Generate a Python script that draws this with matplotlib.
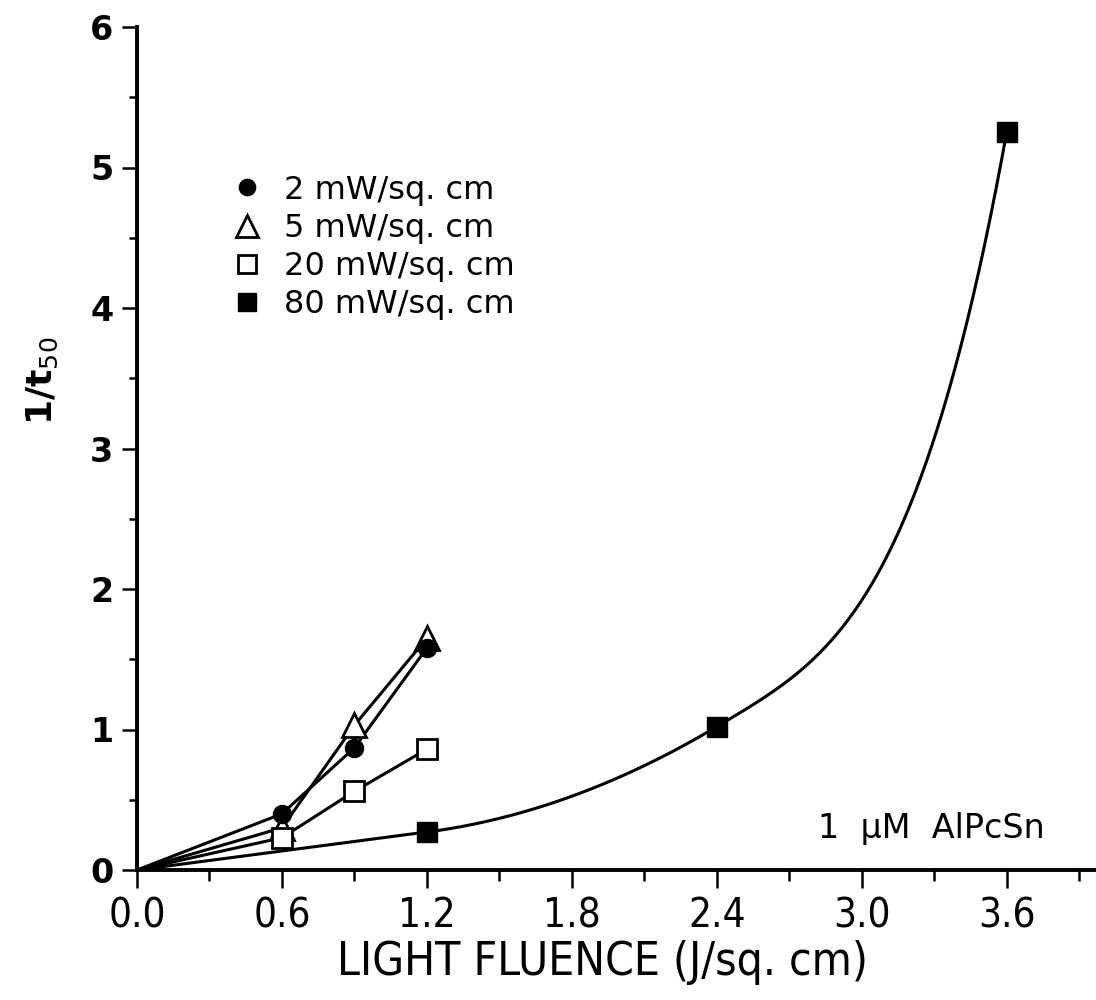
import numpy as np
import matplotlib
matplotlib.use("Agg")
import matplotlib.pyplot as plt
from matplotlib import font_manager
from matplotlib.font_manager import FontProperties
from matplotlib.ticker import MultipleLocator, FixedLocator

# ---- data ----
x_low = [0.0, 0.6, 0.9, 1.2]
y_2mw = [0.0, 0.40, 0.87, 1.58]
y_5mw = [0.0, 0.30, 1.03, 1.65]
y_20mw = [0.0, 0.23, 0.56, 0.86]
x_80mw = [0.0, 1.2, 2.4, 3.6]
y_80mw = [0.0, 0.27, 1.02, 5.25]
labels = ["2 mW/sq. cm", "5 mW/sq. cm", "20 mW/sq. cm", "80 mW/sq. cm"]
xticks = [0.0, 0.6, 1.2, 1.8, 2.4, 3.0, 3.6]
xticklabels = ["0.0", "0.6", "1.2", "1.8", "2.4", "3.0", "3.6"]
yticks = [0, 1, 2, 3, 4, 5, 6]
yticklabels = ["0", "1", "2", "3", "4", "5", "6"]

main = "DejaVu Sans"
cond_path = font_manager.findfont(FontProperties(family="DejaVu Sans", stretch="condensed"))
has_cond = "ondensed" in cond_path
narrow_props = dict(family="DejaVu Sans", fontstretch="condensed") if has_cond else dict(family="DejaVu Sans")

fig = plt.figure(figsize=(10.96, 10), dpi=100)
ax = fig.add_axes([137 / 1096, 0.13, 1 - 137 / 1096, 0.843])
ax.set_xlim(0, 3.97)
ax.set_ylim(0, 6)

lw = 2.2
ax.plot(x_low, y_2mw, color="black", lw=lw, zorder=2)
ax.plot(x_low, y_5mw, color="black", lw=lw, zorder=2)
ax.plot(x_low, y_20mw, color="black", lw=lw, zorder=2)

# 80 mW smooth fitted curve through its points (slope-continuous pieces)
x0, xa, xb, xc = x_80mw
y0, ya, yb, yc = y_80mw
s0 = (ya - y0) / (xa - x0)
xs1 = np.linspace(x0, xa, 20)
ys1 = y0 + s0 * (xs1 - x0)
qa = (yb - ya - s0 * (xb - xa)) / (xb - xa) ** 2
xs2 = np.linspace(xa, xb, 100)
ys2 = ya + s0 * (xs2 - xa) + qa * (xs2 - xa) ** 2
s1 = s0 + 2 * qa * (xb - xa)
p = 3.4
B = (yc - yb - s1 * (xc - xb)) / (xc - xb) ** p
xs3 = np.linspace(xb, xc, 200)
ys3 = yb + s1 * (xs3 - xb) + B * (xs3 - xb) ** p
ax.plot(np.concatenate([xs1, xs2, xs3]), np.concatenate([ys1, ys2, ys3]),
        color="black", lw=lw, zorder=2)

h1, = ax.plot(x_low[1:], y_2mw[1:], "o", ms=13, mfc="black", mec="black", ls="none", zorder=5, label=labels[0])
h2, = ax.plot(x_low[1:], y_5mw[1:], "^", ms=17, mfc="white", mec="black", mew=2, ls="none", zorder=4, label=labels[1])
h3, = ax.plot(x_low[1:], y_20mw[1:], "s", ms=14, mfc="white", mec="black", mew=2, ls="none", zorder=4, label=labels[2])
h4, = ax.plot(x_80mw[1:], y_80mw[1:], "s", ms=15, mfc="black", mec="black", ls="none", zorder=4, label=labels[3])

leg = ax.legend(handles=[h1, h2, h3, h4], loc="upper left", bbox_to_anchor=(0.09, 0.84),
                frameon=False, prop={"family": main, "size": 23}, handlelength=0.7,
                handletextpad=0.8, labelspacing=0.22, borderaxespad=0, markerscale=0.9)

ax.text(0.947, 0.03, "1  \u03bcM  AlPcSn", transform=ax.transAxes, ha="right", va="bottom",
        fontsize=24, family=main)

for s in ["top", "right"]:
    ax.spines[s].set_visible(False)
for s in ["left", "bottom"]:
    ax.spines[s].set_linewidth(2.8)

ax.xaxis.set_major_locator(FixedLocator(xticks))
ax.set_xticklabels(xticklabels, fontsize=29, **narrow_props)
ax.xaxis.set_minor_locator(MultipleLocator(0.3))
ax.yaxis.set_major_locator(FixedLocator(yticks))
ax.set_yticklabels(yticklabels, family=main, fontsize=24, fontweight="bold")
ax.yaxis.set_minor_locator(MultipleLocator(0.5))
ax.tick_params(axis="x", which="major", direction="out", length=13, width=1.8, pad=6)
ax.tick_params(axis="x", which="minor", direction="out", length=8, width=1.8)
ax.tick_params(axis="y", which="major", direction="out", length=11, width=1.8, pad=6)
ax.tick_params(axis="y", which="minor", direction="out", length=6, width=1.8)

ax.set_xlabel("LIGHT FLUENCE (J/sq. cm)", fontsize=33, **narrow_props)
ax.xaxis.set_label_coords(0.485, -0.083)
ax.set_ylabel("1/t$_{50}$", family=main, fontsize=26, fontweight="bold")
ax.yaxis.set_label_coords(-(137 - 60) / (1096 - 137), 0.58)

fig.savefig("out.png", dpi=100)
